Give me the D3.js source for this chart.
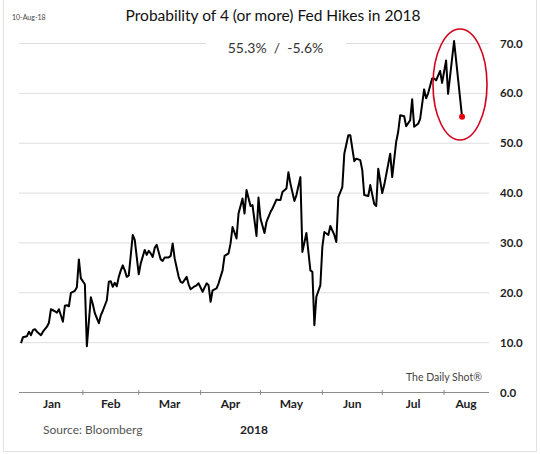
<!DOCTYPE html>
<meta charset="utf-8">
<script src="https://d3js.org/d3.v7.min.js"></script>
<style>
  body { margin: 0; background: #fff; }
  text { font-family: Lato, "Open Sans", sans-serif; }
</style>
<div id="chart"></div>
<script>
// dates (day positions along the axis)
var dates = [
  "2018-01-01","2018-01-02","2018-01-03","2018-01-04","2018-01-05","2018-01-06","2018-01-07","2018-01-08","2018-01-09","2018-01-11",
  "2018-01-12","2018-01-14","2018-01-15","2018-01-16","2018-01-18","2018-01-19","2018-01-20","2018-01-22","2018-01-23","2018-01-24",
  "2018-01-25","2018-01-26","2018-01-28","2018-01-29","2018-01-30","2018-01-31","2018-02-02","2018-02-03","2018-02-05","2018-02-06",
  "2018-02-07","2018-02-09","2018-02-10","2018-02-11","2018-02-13","2018-02-14","2018-02-15","2018-02-16","2018-02-17","2018-02-18",
  "2018-02-19","2018-02-20","2018-02-21","2018-02-22","2018-02-23","2018-02-24","2018-02-26","2018-02-27","2018-03-01","2018-03-02",
  "2018-03-04","2018-03-05","2018-03-06","2018-03-07","2018-03-08","2018-03-09","2018-03-10","2018-03-12","2018-03-13","2018-03-14",
  "2018-03-16","2018-03-17","2018-03-18","2018-03-19","2018-03-21","2018-03-22","2018-03-23","2018-03-25","2018-03-26","2018-03-27",
  "2018-03-29","2018-03-30","2018-03-31","2018-04-02","2018-04-04","2018-04-05","2018-04-06","2018-04-07","2018-04-09","2018-04-10",
  "2018-04-12","2018-04-13","2018-04-15","2018-04-16","2018-04-17","2018-04-19","2018-04-20","2018-04-22","2018-04-23","2018-04-24",
  "2018-04-26","2018-04-27","2018-04-29","2018-04-30","2018-05-01","2018-05-03","2018-05-04","2018-05-06","2018-05-07","2018-05-09",
  "2018-05-10","2018-05-11","2018-05-12","2018-05-14","2018-05-15","2018-05-16","2018-05-18","2018-05-19","2018-05-21","2018-05-22",
  "2018-05-24","2018-05-26","2018-05-27","2018-05-28","2018-05-29","2018-05-31","2018-06-01","2018-06-02","2018-06-04","2018-06-05",
  "2018-06-07","2018-06-08","2018-06-09","2018-06-11","2018-06-12","2018-06-14","2018-06-15","2018-06-17","2018-06-18","2018-06-20",
  "2018-06-21","2018-06-22","2018-06-24","2018-06-25","2018-06-27","2018-06-28","2018-06-29","2018-07-01","2018-07-02","2018-07-05",
  "2018-07-06","2018-07-08","2018-07-09","2018-07-10","2018-07-12","2018-07-13","2018-07-15","2018-07-16","2018-07-17","2018-07-19",
  "2018-07-20","2018-07-22","2018-07-23","2018-07-24","2018-07-26","2018-07-27","2018-07-28","2018-07-30","2018-07-31","2018-08-02",
  "2018-08-03","2018-08-06","2018-08-07","2018-08-08","2018-08-09","2018-08-10"
];

// probability, %
var values = [
  9.9,11.1,11.2,11.3,12.2,11.5,12.5,12.7,12.2,11.5,
  12.2,13.2,14.0,16.7,16.3,16.0,16.7,14.2,17.4,17.5,
  17.3,20.0,20.4,21.1,26.7,22.9,21.7,9.3,19.1,17.7,
  15.9,13.9,15.5,16.4,18.5,22.2,22.3,21.2,22.0,21.3,
  23.2,24.5,25.5,24.5,23.2,23.5,31.6,30.6,23.7,25.9,
  28.6,27.6,28.4,27.9,27.2,29.0,29.6,26.7,26.4,27.1,
  27.1,27.4,29.9,26.9,23.2,22.2,22.0,23.2,21.7,20.7,
  21.3,21.5,21.9,20.2,21.9,21.5,18.2,20.5,20.9,21.9,
  24.5,27.4,27.9,29.9,33.2,30.9,35.9,38.9,35.9,40.6,
  37.4,37.6,31.4,39.1,34.9,32.0,34.2,36.2,36.9,38.7,
  38.6,38.6,40.2,40.9,44.2,41.9,38.4,39.6,43.2,28.2,
  32.0,24.5,24.2,13.5,19.2,21.5,29.2,32.2,31.6,33.4,
  31.6,30.2,39.2,41.2,47.9,51.6,51.6,46.4,46.9,46.6,
  44.6,39.6,39.4,41.6,37.8,37.4,44.9,40.0,41.6,47.9,
  43.2,50.3,52.3,55.6,55.4,53.4,54.6,58.8,53.3,53.9,
  54.9,60.8,59.0,60.0,63.0,63.0,62.6,64.5,62.1,66.6,
  59.9,70.5,66.7,62.9,59.1,55.3
];

var monthLabels = ["Jan", "Feb", "Mar", "Apr", "May", "Jun", "Jul", "Aug"];
var yTicks = [0, 10, 20, 30, 40, 50, 60, 70];
var lastReading = ["55.3%", "-5.6%"];

var width = 540, height = 454;
var parse = d3.timeParse("%Y-%m-%d");
var data = dates.map(function(d, i) { return { date: parse(d), value: values[i] }; });

var x0 = new Date(2018, 0, 1), x1 = new Date(2018, 7, 23);
var x = d3.scaleTime().domain([x0, x1]).range([21, 488]);
var y = d3.scaleLinear().domain([0, 70]).range([392.5, 43.5]);

var svg = d3.select("#chart").append("svg")
    .attr("width", width)
    .attr("height", height);

// light frame round the picture
svg.append("rect")
    .attr("x", 3.5).attr("y", -2)
    .attr("width", 533).attr("height", 453.5)
    .attr("fill", "#fff")
    .attr("stroke", "#e2e2e2");

// grid lines
svg.append("g")
    .selectAll("line")
    .data(yTicks.filter(function(t) { return t > 0; }))
    .enter().append("line")
    .attr("x1", 19).attr("x2", 489)
    .attr("y1", function(d) { return y(d); })
    .attr("y2", function(d) { return y(d); })
    .attr("stroke", "#dedede")
    .attr("stroke-width", 1);

// y labels on the right
svg.append("g")
    .selectAll("text")
    .data(yTicks)
    .enter().append("text")
    .attr("x", 500)
    .attr("y", function(d) { return y(d); })
    .attr("dy", "0.35em")
    .attr("font-size", "11.5px")
    .attr("font-weight", "bold")
    .attr("fill", "#222")
    .text(function(d) { return d3.format(".1f")(d); });

// x axis
var monthStarts = d3.timeMonth.range(new Date(2018, 1, 1), x1);
var xAxis = svg.append("g");
xAxis.append("line")
    .attr("x1", 19).attr("x2", 489)
    .attr("y1", y(0)).attr("y2", y(0))
    .attr("stroke", "#8c8c8c")
    .attr("stroke-width", 1.2);
xAxis.selectAll("line.tick")
    .data(monthStarts)
    .enter().append("line")
    .attr("class", "tick")
    .attr("x1", function(d) { return x(d); })
    .attr("x2", function(d) { return x(d); })
    .attr("y1", y(0) - 2.5).attr("y2", y(0) + 2.5)
    .attr("stroke", "#8c8c8c");

var bounds = [x0].concat(monthStarts).concat([x1]);
xAxis.selectAll("text")
    .data(monthLabels)
    .enter().append("text")
    .attr("x", function(d, i) { return (x(bounds[i]) + x(bounds[i + 1])) / 2; })
    .attr("y", 408)
    .attr("text-anchor", "middle")
    .attr("font-size", "12px")
    .attr("font-weight", "bold")
    .attr("fill", "#222")
    .text(function(d) { return d; });

// the series
var line = d3.line()
    .x(function(d) { return x(d.date); })
    .y(function(d) { return y(d.value); });

svg.append("path")
    .datum(data)
    .attr("d", line)
    .attr("fill", "none")
    .attr("stroke", "#000")
    .attr("stroke-width", 2)
    .attr("stroke-linejoin", "round");

// highlight of the last days
var last = data[data.length - 1];
svg.append("ellipse")
    .attr("cx", 460).attr("cy", 84.5)
    .attr("rx", 27).attr("ry", 55.5)
    .attr("fill", "none")
    .attr("stroke", "#d0021b")
    .attr("stroke-width", 1.6);
svg.append("circle")
    .attr("cx", x(last.date)).attr("cy", y(last.value))
    .attr("r", 3)
    .attr("fill", "#e8000b");

// titles and notes
svg.append("text")
    .attr("x", 273).attr("y", 21)
    .attr("text-anchor", "middle")
    .attr("font-size", "15.5px")
    .attr("fill", "#111")
    .text("Probability of 4 (or more) Fed Hikes in 2018");

var sub = svg.append("g");
sub.append("rect")
    .attr("x", 206).attr("y", 38)
    .attr("width", 140).attr("height", 18)
    .attr("fill", "#fff");
sub.append("text")
    .attr("x", 275.5).attr("y", 53)
    .attr("text-anchor", "middle")
    .attr("font-size", "14px")
    .attr("fill", "#333")
    .attr("xml:space", "preserve")
    .text(lastReading.join("  /  "));

svg.append("text")
    .attr("x", 12).attr("y", 20)
    .attr("font-size", "7px")
    .attr("fill", "#444")
    .text("10-Aug-18");

svg.append("text")
    .attr("x", 406).attr("y", 381)
    .attr("font-size", "10.5px")
    .attr("fill", "#444")
    .text("The Daily Shot®");

svg.append("text")
    .attr("x", 43).attr("y", 434)
    .attr("font-size", "12px")
    .attr("fill", "#555")
    .text("Source: Bloomberg");

svg.append("text")
    .attr("x", 254).attr("y", 434)
    .attr("text-anchor", "middle")
    .attr("font-size", "12px")
    .attr("font-weight", "bold")
    .attr("fill", "#222")
    .text("2018");
</script>
